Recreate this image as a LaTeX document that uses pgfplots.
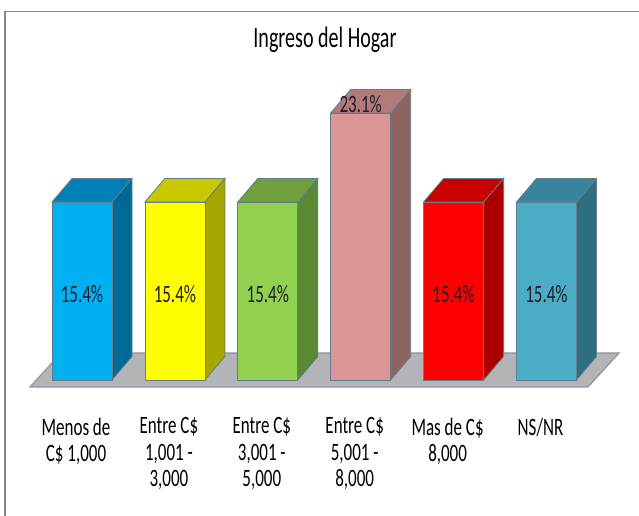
\documentclass[border=0pt]{standalone}
\usepackage{pgfplots}
\pgfplotsset{compat=1.18}
\usepackage{fontspec}
\setmainfont{Carlito}[FakeStretch=0.68]
\definecolor{edge}{RGB}{100,125,140}
\definecolor{floorfill}{RGB}{178,180,184}
\definecolor{flooredge}{RGB}{145,147,152}
\definecolor{labtext}{RGB}{30,30,45}
\definecolor{fA}{RGB}{0,176,240}\definecolor{tA}{RGB}{0,128,182}\definecolor{sA}{RGB}{0,106,150}
\definecolor{fB}{RGB}{255,255,0}\definecolor{tB}{RGB}{200,200,0}\definecolor{sB}{RGB}{166,166,0}
\definecolor{fC}{RGB}{146,208,80}\definecolor{tC}{RGB}{112,160,62}\definecolor{sC}{RGB}{92,136,52}
\definecolor{fD}{RGB}{217,150,148}\definecolor{tD}{RGB}{178,122,120}\definecolor{sD}{RGB}{140,100,98}
\definecolor{fE}{RGB}{255,0,0}\definecolor{tE}{RGB}{200,0,0}\definecolor{sE}{RGB}{170,0,0}
\definecolor{fF}{RGB}{75,172,198}\definecolor{tF}{RGB}{56,132,156}\definecolor{sF}{RGB}{46,110,130}
% #1 category position, #2 value, #3 front colour, #4 top colour, #5 side colour
\newcommand\tdbar[5]{%
  \pgfmathsetmacro\xL{#1-0.3229}%
  \pgfmathsetmacro\xR{#1+0.3229}%
  \pgfmathsetmacro\xLb{#1-0.3229+0.2153}%
  \pgfmathsetmacro\xRb{#1+0.3229+0.2153}%
  \pgfmathsetmacro\yT{#2}%
  \pgfmathsetmacro\yTb{#2+2.033}%
  \edef\doit{%
    \noexpand\addplot[fill=#5, draw=edge, line width=0.8pt] coordinates {(\xR,0) (\xRb,2.033) (\xRb,\yTb) (\xR,\yT)} -- cycle;
    \noexpand\addplot[fill=#4, draw=edge, line width=0.8pt] coordinates {(\xL,\yT) (\xR,\yT) (\xRb,\yTb) (\xLb,\yTb)} -- cycle;
    \noexpand\addplot[fill=#3, draw=edge, line width=0.8pt] coordinates {(\xL,0) (\xR,0) (\xR,\yT) (\xL,\yT)} -- cycle;
  }\doit
}
\begin{document}
\begin{tikzpicture}
\path[use as bounding box] (0,0) rectangle (639pt,516pt);
\draw[color={rgb,255:red,135;green,135;blue,135}, line width=1.5pt] (5pt,0) -- (5pt,504.5pt) -- (639pt,504.5pt);
\begin{axis}[
  at={(0pt,121pt)}, anchor=south west,
  width=639pt, height=395pt, scale only axis,
  xmin=-0.8827, xmax=5.9957, ymin=-1.298, ymax=32.87,
  axis line style={draw=none}, major tick length=0pt, tick style={draw=none},
  ytick=\empty, xtick={0,1,2,3,4,5},
  xticklabels={{Menos de\\C\$ 1,000},{Entre C\$\\1,001 -\\3,000},{Entre C\$\\3,001 -\\5,000},{Entre C\$\\5,001 -\\8,000},{Mas de C\$\\8,000},{NS/NR}},
  xticklabel style={align=center, anchor=north, inner sep=0pt, yshift=-22.5pt, xshift=-6pt, font=\fontsize{25}{26.5}\selectfont, text=black},
  clip=false,
  title={Ingreso del Hogar},
  title style={at={(axis description cs:0.5086,0.8835)}, anchor=center, font=\fontsize{29.5}{34}\selectfont},
]
\addplot[fill=floorfill, draw=flooredge, line width=1.2pt] coordinates {(-0.5597,-0.6055) (5.4467,-0.6055) (5.7804,2.3356) (-0.2260,2.3356)} -- cycle;
\tdbar{0}{15.4}{fA}{tA}{sA}
\tdbar{1}{15.4}{fB}{tB}{sB}
\tdbar{2}{15.4}{fC}{tC}{sC}
\tdbar{3}{23.1}{fD}{tD}{sD}
\tdbar{4}{15.4}{fE}{tE}{sE}
\tdbar{5}{15.4}{fF}{tF}{sF}
\node[font=\fontsize{25}{28}\selectfont, text=labtext] at (axis cs:0,7.45) {15.4\%};
\node[font=\fontsize{25}{28}\selectfont, text=labtext] at (axis cs:1,7.45) {15.4\%};
\node[font=\fontsize{25}{28}\selectfont, text=labtext] at (axis cs:2,7.45) {15.4\%};
\node[font=\fontsize{25}{28}\selectfont, text=labtext] at (axis cs:3,23.88) {23.1\%};
\node[font=\fontsize{25}{28}\selectfont, text=labtext] at (axis cs:4,7.45) {15.4\%};
\node[font=\fontsize{25}{28}\selectfont, text=labtext] at (axis cs:5,7.45) {15.4\%};
\end{axis}
\end{tikzpicture}
\end{document}
